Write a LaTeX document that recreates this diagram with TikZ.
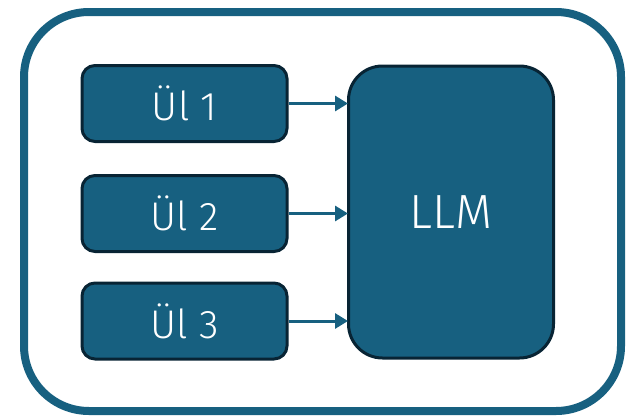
\documentclass[tikz,border=0pt]{standalone}
\usepackage{fontspec}
\setmainfont{Fira Sans}[UprightFont=* Light]
\usetikzlibrary{arrows.meta}
\definecolor{boxfill}{RGB}{23,96,128}
\definecolor{boxline}{RGB}{8,36,52}
\definecolor{frame}{RGB}{23,96,128}
\begin{document}
\begin{tikzpicture}[x=1pt,y=-1pt,
  inbox/.style={draw=boxline, line width=3pt, fill=boxfill, rounded corners=13pt,
    minimum width=205pt, minimum height=76pt, text=white, font=\fontsize{40}{44}\selectfont, inner sep=0pt},
  llmbox/.style={draw=boxline, line width=3pt, fill=boxfill, rounded corners=34pt,
    minimum width=205pt, minimum height=292pt, text=white, font=\fontsize{48}{52}\selectfont, inner sep=0pt},
  conn/.style={draw=frame, line width=3pt, -{Triangle[length=13pt,width=15pt]}, shorten >=-1pt}]
\useasboundingbox (0,0) rectangle (626,415);
\draw[frame, line width=8pt, rounded corners=65pt] (24,12) rectangle (621,411);
\node[inbox] (u1) at (184.5,103.5) {Ül 1};
\node[inbox] (u2) at (184.5,213.5) {Ül 2};
\node[inbox] (u3) at (184.5,321) {Ül 3};
\node[llmbox] (llm) at (451,212) {LLM};
\draw[conn] (u1.east) -- (u1.east -| llm.west);
\draw[conn] (u2.east) -- (u2.east -| llm.west);
\draw[conn] (u3.east) -- (u3.east -| llm.west);
\end{tikzpicture}
\end{document}
